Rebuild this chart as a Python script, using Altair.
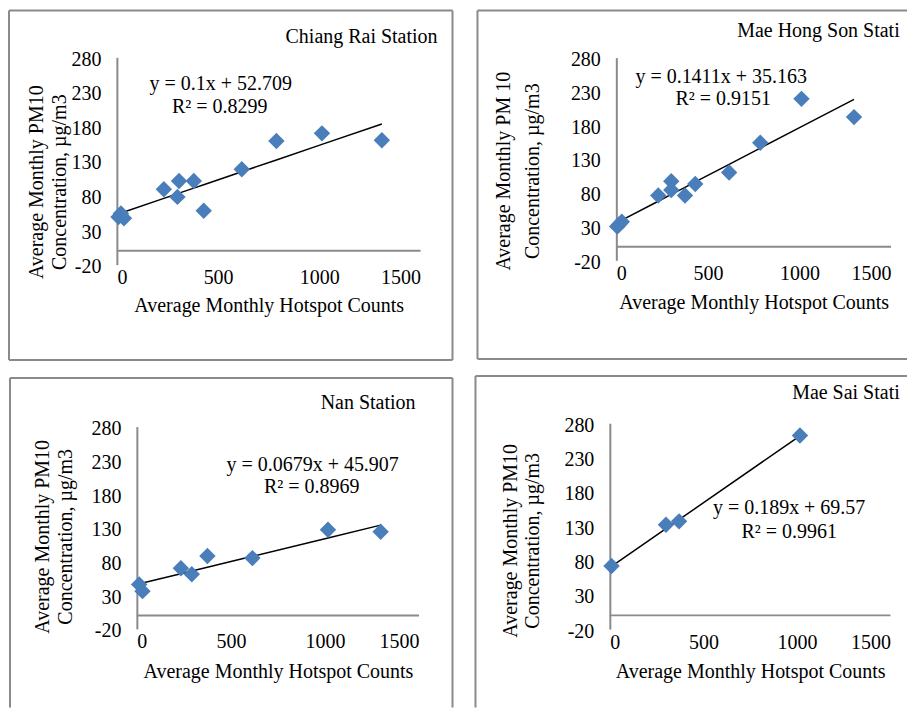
import altair as alt
import pandas as pd

# ---------------- data ----------------
stations = ["Chiang  Rai Station", "Mae Hong Son Station", "Nan Station", "Mae Sai  Station"]

chiang_rai_hotspots = [8, 20, 35, 232, 299, 307, 380, 429, 617, 788, 1013, 1309]
chiang_rai_pm10 = [49, 54, 47, 89, 78, 101, 101, 58, 118, 159, 170, 160]

mae_hong_son_hotspots = [5, 15, 30, 229, 300, 300, 375, 431, 616, 786, 1011, 1298]
mae_hong_son_pm10 = [30, 33, 37, 76, 97, 84, 76, 93, 110, 154, 219, 192]

nan_hotspots = [12, 30, 234, 292, 375, 614, 1016, 1296]
nan_pm10 = [46, 36, 70, 61, 88, 85, 127, 124]

mae_sai_hotspots = [9, 300, 370, 1016]
mae_sai_pm10 = [72, 132, 137, 262]

slopes = [0.1, 0.1411, 0.0679, 0.189]
intercepts = [52.709, 35.163, 45.907, 69.57]
equations = ["y = 0.1x + 52.709", "y = 0.1411x + 35.163", "y = 0.0679x + 45.907", "y = 0.189x + 69.57"]
r_squared = ["R² = 0.8299", "R² = 0.9151", "R² = 0.8969", "R² = 0.9961"]

x_ticks = [0, 500, 1000, 1500]
y_ticks = [-20, 30, 80, 130, 180, 230, 280]
x_title = "Average  Monthly Hotspot Counts"
y_titles = [
    ["Average  Monthly PM10", "Concentration, µg/m3"],
    ["Average Monthly PM 10", "Concentration, µg/m3"],
    ["Average  Monthly PM10", "Concentration, µg/m3"],
    ["Average  Monthly PM10", "Concentration, µg/m3"],
]

# ---------------- styling / layout ----------------
FONT = "Liberation Serif"
FS = 20
GRAY = "#8a8a8a"
BLUE = "#4A7EBB"
W, H = 900, 700

one = pd.DataFrame({"k": [0]})


def txt(s, x, y, align="center", angle=0, limit=0):
    kw = dict(text=s, font=FONT, fontSize=FS, color="black", align=align, baseline="middle")
    if angle:
        kw["angle"] = angle
    if limit:
        kw["limit"] = limit
        kw["ellipsis"] = "\u200b"
    return alt.Chart(one).mark_text(**kw).encode(x=alt.value(x), y=alt.value(y))


def hrule(x1, x2, y):
    return alt.Chart(one).mark_rule(color=GRAY, strokeWidth=2).encode(
        x=alt.value(x1), x2=alt.value(x2), y=alt.value(y))


def vrule(x, y1, y2):
    return alt.Chart(one).mark_rule(color=GRAY, strokeWidth=2).encode(
        x=alt.value(x), y=alt.value(y1), y2=alt.value(y2))


def panel(xs, ys, i, xr, yr, tpad, box, title_pos, eq_pos, r2_pos, yt_pos):
    df = pd.DataFrame({"x": xs, "y": ys})
    xsc = alt.Scale(domain=[0, 1500], range=list(xr), nice=False, zero=False)
    ysc = alt.Scale(domain=[-20, 280], range=list(yr), nice=False, zero=False)
    x_axis = alt.Axis(orient="bottom", offset=yr[0] - H, values=x_ticks, format="d", title=x_title,
                      domain=False, ticks=False, grid=False,
                      labelFont=FONT, labelFontSize=FS, labelColor="black", labelPadding=3,
                      titleFont=FONT, titleFontSize=FS, titleFontWeight="normal", titleColor="black",
                      titlePadding=tpad)
    y_axis = alt.Axis(orient="left", offset=-xr[0], values=y_ticks, labelExpr="'' + datum.value",
                      title=None, domain=True, domainColor=GRAY, domainWidth=2, ticks=False, grid=False,
                      labelFont=FONT, labelFontSize=FS, labelColor="black", labelPadding=16,
                      labelOffset=2)
    base = alt.Chart(df)
    points = base.mark_point(shape="diamond", filled=True, size=270, color=BLUE, opacity=1).encode(
        x=alt.X("x:Q", scale=xsc, axis=x_axis), y=alt.Y("y:Q", scale=ysc, axis=y_axis))
    trend = base.transform_calculate(fit=f"{slopes[i]} * datum.x + {intercepts[i]}").mark_line(
        color="black", strokeWidth=1.5).encode(
        x=alt.X("x:Q", scale=xsc, axis=None), y=alt.Y("fit:Q", scale=ysc, axis=None))
    xline = alt.Chart(one).mark_rule(color=GRAY, strokeWidth=2).encode(
        y=alt.YDatum(0, type="quantitative", scale=ysc, axis=None),
        x=alt.value(xr[0]), x2=alt.value(xr[1]))

    layers = [xline, trend, points]
    tx, ty, talign, tlimit = title_pos
    layers.append(txt(stations[i], tx, ty, align=talign, limit=tlimit))
    layers.append(txt(equations[i], eq_pos[0], eq_pos[1]))
    layers.append(txt(r_squared[i], r2_pos[0], r2_pos[1]))
    (x1, x2, yc) = yt_pos
    layers.append(txt(y_titles[i][0], x1, yc, angle=270))
    layers.append(txt(y_titles[i][1], x2, yc, angle=270))
    for kind, a, b, c in box:
        layers.append(hrule(a, b, c) if kind == "h" else vrule(a, b, c))
    return layers


L1 = panel(chiang_rai_hotspots, chiang_rai_pm10, 0, (109, 413), (256.5, 49), 8,
           [("h", 1, 445, 2), ("h", 1, 445, 352), ("v", 1, 2, 352), ("v", 445, 2, 352)],
           (430, 29, "right", 0), (213, 76), (212, 99), (29, 52, 174))
L2 = panel(mae_hong_son_hotspots, mae_hong_son_pm10, 1, (609, 884), (252.2, 49.3), 9,
           [("h", 470, W, 2), ("h", 470, W, 351), ("v", 470, 2, 351)],
           (730, 23, "left", W - 730), (714, 69), (716, 91), (497, 526, 163))
L3 = panel(nan_hotspots, nan_pm10, 2, (129, 411.5), (621.2, 418.7), 10,
           [("h", 2, 445, 370), ("v", 2, 370, H), ("v", 445, 370, H)],
           (408, 395, "right", 0), (305, 457), (304, 479), (35, 58, 529))
L4 = panel(mae_sai_hotspots, mae_sai_pm10, 3, (602.5, 883.5), (621.4, 415.3), 9,
           [("h", 468, W, 368), ("v", 468, 368, H)],
           (785, 385, "left", W - 785), (782, 500), (782, 524), (504, 526, 533))

chart = alt.layer(*(L1 + L2 + L3 + L4)).resolve_scale(
    x="independent", y="independent"
).resolve_axis(
    x="independent", y="independent"
).properties(
    width=W, height=H, padding=0
).configure_view(stroke=None)

chart.save("out.html", embed_options={"renderer": "svg", "actions": False})
